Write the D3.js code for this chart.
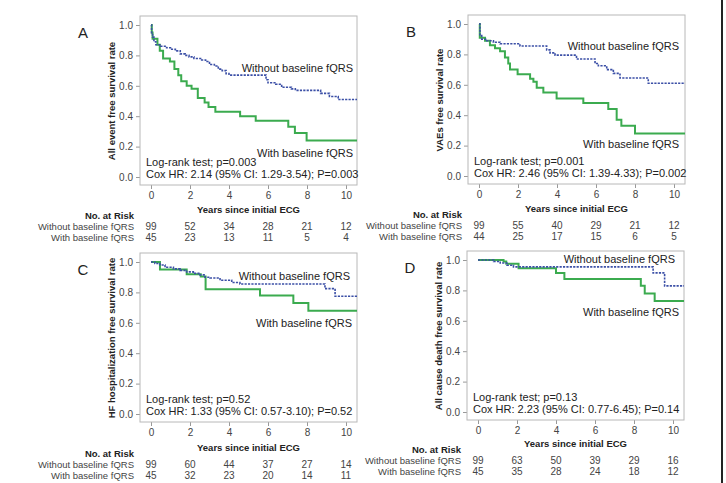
<!DOCTYPE html>
<html>
<head>
<meta charset="utf-8">
<script src="https://cdn.jsdelivr.net/npm/d3@7"></script>
<style>
  body { margin: 0; background: #fff; }
  svg text { font-family: "Liberation Sans", Arial, sans-serif; }
</style>
</head>
<body>
<svg id="chart"></svg>
<script>
// tick labels
const yearTicks = [0, 2, 4, 6, 8, 10];
const survTicks = [0, 0.2, 0.4, 0.6, 0.8, 1.0];
const groupNames = ['Without baseline fQRS', 'With baseline fQRS'];

// Kaplan-Meier steps, [years, survival]
const aWithout = [[0,1],[0.03,0.95],[0.08,0.92],[0.15,0.89],[0.25,0.87],[0.5,0.86],[0.8,0.85],[1.0,0.84],[1.25,0.83],[1.5,0.81],[1.75,0.8],[1.95,0.79],[2.2,0.78],[2.6,0.77],[2.8,0.76],[3.0,0.74],[3.25,0.73],[3.45,0.71],[3.65,0.7],[3.85,0.68],[4.0,0.67],[5.9,0.64],[6.0,0.62],[6.4,0.61],[6.7,0.59],[7.2,0.58],[7.4,0.57],[8.7,0.55],[9.15,0.53],[9.6,0.51]];
const aWith = [[0,1],[0.04,0.95],[0.08,0.91],[0.33,0.87],[0.45,0.83],[0.62,0.78],[0.97,0.76],[1.2,0.71],[1.4,0.67],[1.55,0.63],[1.83,0.6],[2.08,0.58],[2.4,0.52],[2.75,0.49],[2.95,0.46],[3.3,0.43],[4.57,0.4],[5.37,0.37],[7.04,0.33],[7.38,0.29],[7.98,0.24]];

const bWithout = [[0,1],[0.05,0.93],[0.14,0.9],[0.39,0.89],[0.74,0.88],[1.08,0.87],[2.1,0.855],[3.47,0.83],[3.64,0.81],[3.9,0.795],[5.0,0.77],[5.95,0.74],[6.12,0.725],[6.55,0.7],[6.89,0.675],[7.23,0.645],[8.68,0.61]];
const bWith = [[0,1],[0.04,0.91],[0.31,0.89],[0.56,0.86],[0.82,0.84],[1.08,0.82],[1.33,0.78],[1.5,0.74],[1.59,0.7],[1.98,0.67],[2.62,0.64],[2.79,0.62],[2.96,0.58],[3.3,0.55],[3.98,0.51],[5.35,0.48],[6.63,0.44],[7.06,0.37],[7.3,0.33],[8.0,0.28]];

const cWithout = [[0,1],[0.2,0.99],[0.46,0.98],[0.72,0.965],[1.15,0.955],[1.49,0.945],[1.83,0.935],[2.17,0.925],[2.51,0.915],[2.77,0.9],[3.03,0.895],[3.54,0.88],[4.14,0.865],[4.56,0.855],[8.92,0.825],[9.44,0.775]];
const cWith = [[0,1],[0.46,0.95],[1.83,0.92],[2.55,0.905],[2.8,0.82],[5.59,0.78],[7.3,0.73],[8.07,0.68]];

const dWithout = [[0,1],[0.8,0.99],[1.14,0.98],[1.48,0.965],[1.82,0.955],[8.98,0.915],[9.57,0.83]];
const dWith = [[0,1],[1.31,0.99],[1.45,0.975],[2.08,0.945],[4.0,0.915],[4.43,0.875],[8.35,0.83],[8.55,0.78],[9.06,0.73]];

// numbers at risk at each year tick
const aRiskWithout = [99, 52, 34, 28, 21, 12];
const aRiskWith = [45, 23, 13, 11, 5, 4];
const bRiskWithout = [99, 55, 40, 29, 21, 12];
const bRiskWith = [44, 25, 17, 15, 6, 5];
const cRiskWithout = [99, 60, 44, 37, 27, 14];
const cRiskWith = [45, 32, 23, 20, 14, 11];
const dRiskWithout = [99, 63, 50, 39, 29, 16];
const dRiskWith = [45, 35, 28, 24, 18, 12];

class KMPanel {
    /**
    * One Kaplan-Meier panel with its number-at-risk table
    * @param {Object}
    * @param {Object}
    */
    constructor(_config, _data) {
        this.config = {
            parentElement: _config.parentElement,
            left: _config.left,
            top: _config.top,
            frameWidth: _config.frameWidth || 217,
            frameHeight: _config.frameHeight || 169,
            letter: _config.letter,
            yTitle: _config.yTitle,
            logRank: _config.logRank,
            cox: _config.cox,
            withoutY: _config.withoutY,
            withY: _config.withY,
            withoutDx: _config.withoutDx || 4,
            withDx: _config.withDx || 4,
            statsY: _config.statsY || 150,
            tableDy: _config.tableDy || 0
        };
        this.data = _data;
        this.initVis();
    }

    initVis() {
        let vis = this;
        const c = vis.config;

        vis.g = d3.select(c.parentElement).append('g')
            .attr('transform', `translate(${c.left},${c.top})`);

        // x: year 0 sits 11px inside the frame, 19.5px per year
        vis.xScale = d3.scaleLinear()
            .domain([0, 10])
            .range([11, 206]);

        vis.yScale = d3.scaleLinear()
            .domain([0, 1])
            .range([161, 9]);

        vis.xEnd = vis.xScale.invert(c.frameWidth);

        vis.xAxis = d3.axisBottom(vis.xScale)
            .tickValues(yearTicks)
            .tickSize(4)
            .tickPadding(3)
            .tickSizeOuter(0);

        vis.yAxis = d3.axisLeft(vis.yScale)
            .tickValues(survTicks)
            .tickFormat(d3.format('.1f'))
            .tickSize(4)
            .tickPadding(3)
            .tickSizeOuter(0);

        vis.xAxisG = vis.g.append('g')
            .attr('class', 'axis x-axis')
            .attr('transform', `translate(0,${c.frameHeight})`);

        vis.yAxisG = vis.g.append('g')
            .attr('class', 'axis y-axis');

        // frame
        vis.g.append('rect')
            .attr('x', 0)
            .attr('y', 0)
            .attr('width', c.frameWidth)
            .attr('height', c.frameHeight)
            .attr('fill', 'none')
            .attr('stroke', '#b8b8b8')
            .attr('stroke-width', 1);

        vis.lines = vis.g.append('g');

        vis.line = d3.line()
            .x(d => vis.xScale(d[0]))
            .y(d => vis.yScale(d[1]))
            .curve(d3.curveStepAfter);

        vis.updateVis();
    }

    updateVis() {
        let vis = this;
        // carry the last value out to the right edge of the frame
        const extend = pts => pts.concat([[vis.xEnd, pts[pts.length - 1][1]]]);
        vis.curves = [
            { key: 'with', pts: extend(vis.data.withCurve), color: '#3bab4f', width: 2, dash: null },
            { key: 'without', pts: extend(vis.data.withoutCurve), color: '#3b4fa6', width: 1.6, dash: '2.2,1.2' }
        ];
        vis.renderVis();
    }

    renderVis() {
        let vis = this;
        const c = vis.config;

        vis.lines.selectAll('.km')
            .data(vis.curves, d => d.key)
            .join('path')
            .attr('class', 'km')
            .attr('d', d => vis.line(d.pts))
            .attr('fill', 'none')
            .attr('stroke', d => d.color)
            .attr('stroke-width', d => d.width)
            .attr('stroke-dasharray', d => d.dash);

        vis.xAxisG.call(vis.xAxis);
        vis.yAxisG.call(vis.yAxis);
        vis.g.selectAll('.axis .domain').remove();
        vis.g.selectAll('.axis line').attr('stroke', '#999');
        vis.g.selectAll('.axis text')
            .attr('fill', '#444')
            .attr('font-size', '10px')
            .style('font-family', '"Liberation Sans", Arial, sans-serif');

        // panel letter
        vis.g.append('text')
            .attr('x', -57)
            .attr('y', 22)
            .attr('text-anchor', 'middle')
            .attr('font-size', '15px')
            .attr('fill', '#222')
            .text(c.letter);

        // y title
        vis.g.append('text')
            .attr('transform', `translate(-25,${(vis.yScale(0) + vis.yScale(1)) / 2}) rotate(-90)`)
            .attr('text-anchor', 'middle')
            .attr('font-size', '9.5px')
            .attr('font-weight', 'bold')
            .attr('fill', '#222')
            .text(c.yTitle);

        // group labels
        vis.g.append('text')
            .attr('x', c.frameWidth - c.withoutDx)
            .attr('y', c.withoutY)
            .attr('text-anchor', 'end')
            .attr('font-size', '11px')
            .attr('fill', '#222')
            .text(groupNames[0]);

        vis.g.append('text')
            .attr('x', c.frameWidth - c.withDx)
            .attr('y', c.withY)
            .attr('text-anchor', 'end')
            .attr('font-size', '11px')
            .attr('fill', '#222')
            .text(groupNames[1]);

        // test results
        vis.g.append('text')
            .attr('x', 6)
            .attr('y', c.statsY)
            .attr('font-size', '11px')
            .attr('fill', '#222')
            .text(c.logRank);

        vis.g.append('text')
            .attr('x', 6)
            .attr('y', c.statsY + 12)
            .attr('font-size', '11px')
            .attr('fill', '#222')
            .text(c.cox);

        // number at risk table
        const t = vis.g.append('g')
            .attr('transform', `translate(0,${c.frameHeight + c.tableDy})`);

        t.append('text')
            .attr('x', vis.xScale(5))
            .attr('y', 28)
            .attr('text-anchor', 'middle')
            .attr('font-size', '9.5px')
            .attr('font-weight', 'bold')
            .attr('fill', '#222')
            .text('Years since initial ECG');

        t.append('text')
            .attr('x', -6)
            .attr('y', 34)
            .attr('text-anchor', 'end')
            .attr('font-size', '9.5px')
            .attr('font-weight', 'bold')
            .attr('fill', '#222')
            .text('No. at Risk');

        const rows = [vis.data.riskWithout, vis.data.riskWith];
        rows.forEach((row, i) => {
            const ry = 45 + i * 11;
            t.append('text')
                .attr('x', -6)
                .attr('y', ry)
                .attr('text-anchor', 'end')
                .attr('font-size', '9.5px')
                .attr('fill', '#444')
                .text(groupNames[i]);
            t.selectAll(`.risk${i}`)
                .data(row)
                .join('text')
                .attr('class', `risk${i}`)
                .attr('x', (d, j) => vis.xScale(yearTicks[j]))
                .attr('y', ry)
                .attr('text-anchor', 'middle')
                .attr('font-size', '10px')
                .attr('fill', '#444')
                .text(d => d);
        });
    }
}

const svg = d3.select('#chart')
    .attr('width', 726)
    .attr('height', 483);

svg.append('rect').attr('width', 726).attr('height', 483).attr('fill', '#fff');

new KMPanel({
    parentElement: '#chart', left: 140, top: 16, letter: 'A',
    yTitle: 'All event free survival rate',
    logRank: 'Log-rank test; p=0.003',
    cox: 'Cox HR: 2.14 (95% CI: 1.29-3.54); P=0.003',
    withoutY: 56, withY: 141, withoutDx: 4, withDx: 4
}, { withoutCurve: aWithout, withCurve: aWith, riskWithout: aRiskWithout, riskWith: aRiskWith });

new KMPanel({
    parentElement: '#chart', left: 468, top: 15, letter: 'B',
    yTitle: 'VAEs free survival rate',
    logRank: 'Log-rank test; p=0.001',
    cox: 'Cox HR: 2.46 (95% CI: 1.39-4.33); P=0.002',
    withoutY: 35, withY: 133, withoutDx: 6, withDx: 6
}, { withoutCurve: bWithout, withCurve: bWith, riskWithout: bRiskWithout, riskWith: bRiskWith });

new KMPanel({
    parentElement: '#chart', left: 140, top: 253, letter: 'C',
    yTitle: 'HF hospitalization free survival rate',
    logRank: 'Log-rank test; p=0.52',
    cox: 'Cox HR: 1.33 (95% CI: 0.57-3.10); P=0.52',
    withoutY: 27, withY: 74, withoutDx: 7, withDx: 5, tableDy: 1
}, { withoutCurve: cWithout, withCurve: cWith, riskWithout: cRiskWithout, riskWith: cRiskWith });

new KMPanel({
    parentElement: '#chart', left: 467, top: 251, letter: 'D',
    yTitle: 'All cause death free survival rate',
    logRank: 'Log-rank test; p=0.13',
    cox: 'Cox HR: 2.23 (95% CI: 0.77-6.45); P=0.14',
    withoutY: 12, withY: 65, withoutDx: 9, withDx: 5, tableDy: -1
}, { withoutCurve: dWithout, withCurve: dWith, riskWithout: dRiskWithout, riskWith: dRiskWith });

// right edge rule of the figure
svg.append('line')
    .attr('x1', 722).attr('x2', 722)
    .attr('y1', 0).attr('y2', 483)
    .attr('stroke', '#222')
    .attr('stroke-width', 2);
</script>
</body>
</html>
